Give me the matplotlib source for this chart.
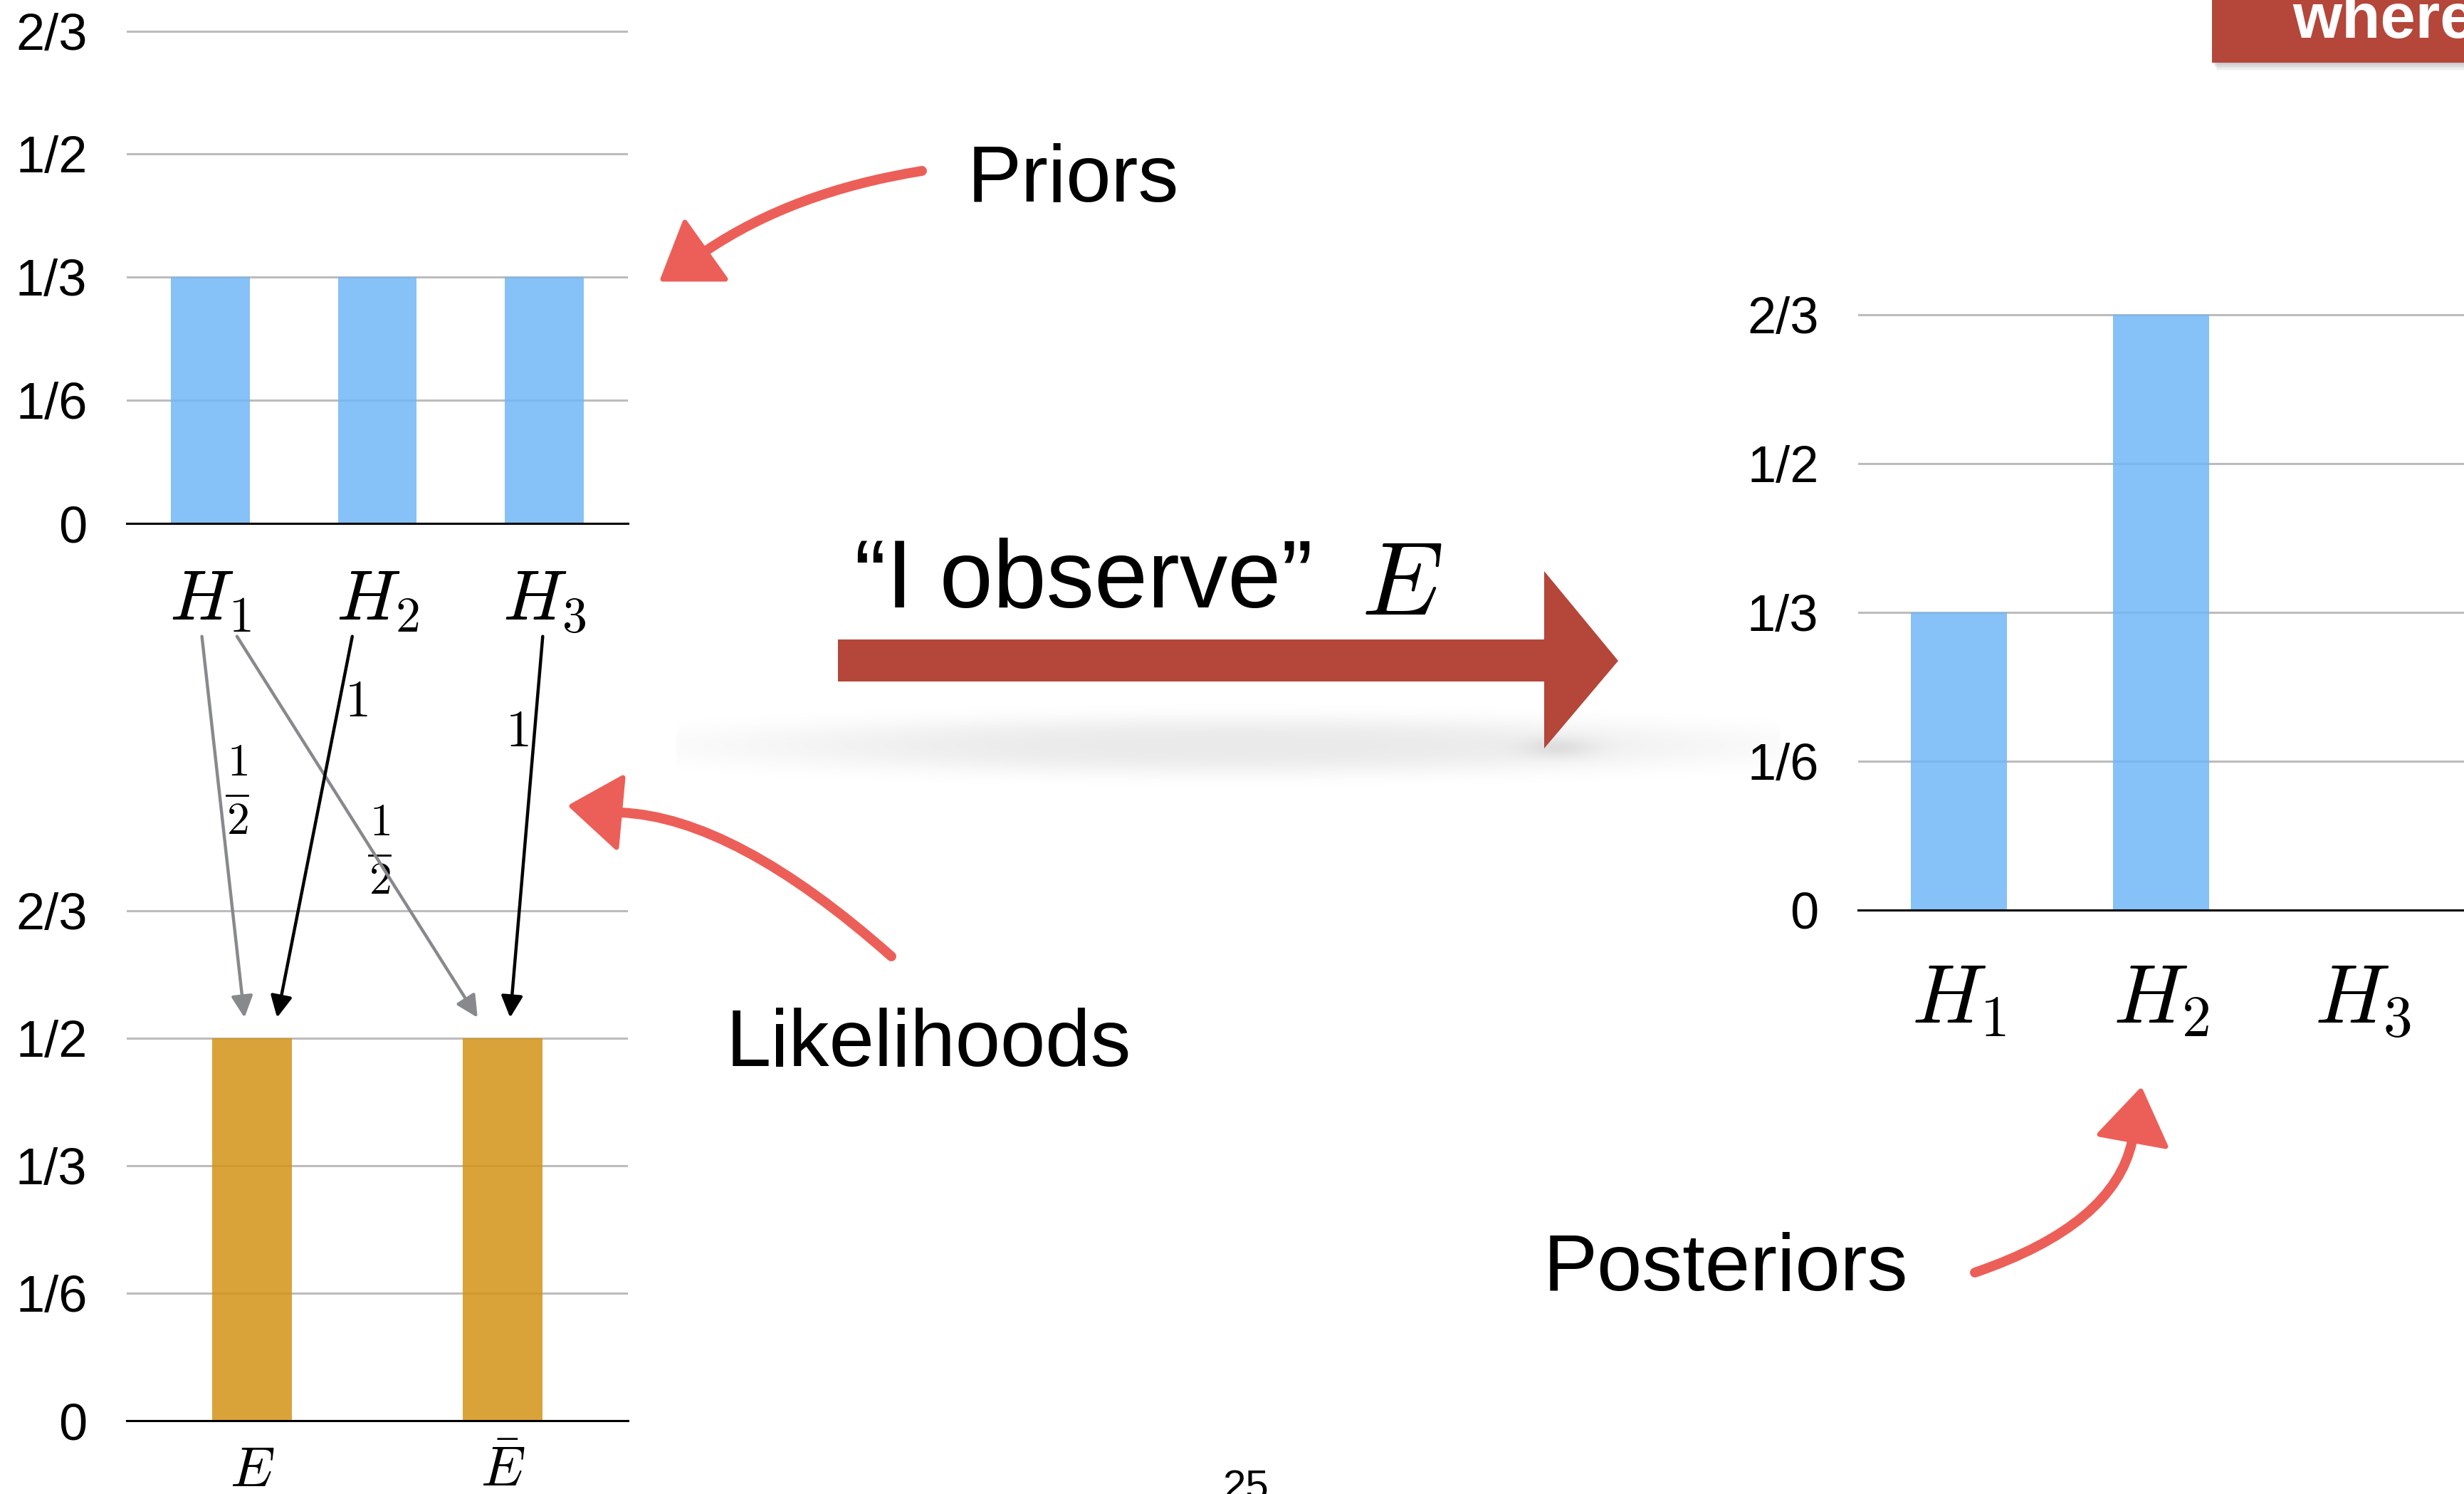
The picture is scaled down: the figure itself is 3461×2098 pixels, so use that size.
import numpy as np
import matplotlib.pyplot as plt
import matplotlib.transforms as transforms
from matplotlib.patches import Polygon, Rectangle, ConnectionPatch, PathPatch
from matplotlib.path import Path

plt.rcParams['font.family'] = ['Liberation Sans', 'DejaVu Sans']
plt.rcParams['mathtext.fontset'] = 'cm'

W, H = 3461, 2098
DPI = 100

# --- data ---------------------------------------------------------------
hypotheses = [r'$H_1$', r'$H_2$', r'$H_3$']
priors = [1/3, 1/3, 1/3]
outcomes = [r'$E$', r'$\bar{E}$']
outcome_probs = [1/2, 1/2]
posteriors = [1/3, 2/3, 0]
tick_vals = [0, 1/6, 1/3, 1/2, 2/3]
tick_text = ['0', '1/6', '1/3', '1/2', '2/3']

# likelihood links: hypothesis -> outcome, P(outcome | hypothesis)
link_hyp = [0, 0, 1, 2]
link_out = [0, 1, 0, 1]
link_num = [1, 1, 1, 1]
link_den = [2, 2, 1, 1]

BLUE = '#71b6f7'
GOLD = '#d49316'
BRICK = '#b4463a'
CORAL = '#ec5f58'

fig = plt.figure(figsize=(W / DPI, H / DPI), dpi=DPI)
fig.patch.set_facecolor('white')

YMAX = 0.68


def panel(x0, x1, y_zero, y_23, values, labels, color, bar_w, lab_size, lab_base):
    y_top = y_zero - (y_zero - y_23) * YMAX / (2 / 3)
    ax = fig.add_axes([x0 / W, 1 - y_zero / H, (x1 - x0) / W, (y_zero - y_top) / H])
    ax.set_facecolor('none')
    ax.set_axisbelow(True)
    x = np.arange(len(values))
    ax.bar(x, values, width=bar_w, color=color, alpha=0.85, zorder=2)
    ax.set_xlim(-0.5, len(values) - 0.5)
    ax.set_ylim(0, YMAX)
    ax.set_yticks(tick_vals, tick_text)
    ax.set_xticks([])
    ax.tick_params(axis='y', length=0, pad=40, labelsize=52)
    ax.grid(axis='y', color='#bcbcbc', lw=2.2)
    for s in ['top', 'right', 'left']:
        ax.spines[s].set_visible(False)
    ax.spines['bottom'].set_linewidth(2.2)
    ax.spines['bottom'].set_zorder(3)
    trans = transforms.blended_transform_factory(ax.transData, fig.transFigure)
    for i, lab in enumerate(labels):
        ax.text(i, 1 - lab_base / H, lab, transform=trans, ha='center',
                va='baseline', fontsize=lab_size)
    return ax


ax_pri = panel(178, 882, 735, 43.6, priors, hypotheses, BLUE, 0.473, 72, 871)
ax_lik = panel(178, 882, 1995, 1279, outcome_probs, outcomes, GOLD, 0.316, 57, 2087)
ax_post = panel(2610, 3461, 1278, 442, posteriors, hypotheses, BLUE, 0.477, 84, 1436)

# arrows from each hypothesis label down to the outcome bars
src_dx = [-0.05, 0.16, -0.15, -0.01]
dst_dx = [-0.03, -0.10, 0.10, 0.03]
for h, o, n, d, a, b in zip(link_hyp, link_out, link_num, link_den, src_dx, dst_dx):
    p = n / d
    col = '#87898d' if p < 1 else 'black'
    con = ConnectionPatch(xyA=(h + a, -0.153), coordsA='data', axesA=ax_pri,
                          xyB=(o + b, outcome_probs[o] + 0.027), coordsB='data', axesB=ax_lik,
                          arrowstyle='-|>', mutation_scale=46, color=col,
                          lw=3.2, zorder=5)
    con.set_annotation_clip(False)
    fig.add_artist(con)

# overlay in pixel coordinates for the slide decorations
ov = fig.add_axes([0, 0, 1, 1], zorder=3)
ov.patch.set_alpha(0)

# soft drop shadow under the big arrow
xs = np.linspace(950, 2500, 600)
ys = np.linspace(960, 1140, 120)
X, Y = np.meshgrid(xs, ys)
r = np.sqrt(((X - 1735) / 690) ** 2 + ((Y - 1047) / 40) ** 2)
alpha = 0.085 * np.exp(-r ** 3) + 0.07 * np.exp(-((X - 2190) / 50) ** 2 - ((Y - 1050) / 14) ** 2)
shadow = np.zeros(X.shape + (4,))
shadow[..., 3] = np.clip(alpha, 0, 1)
ov.imshow(shadow, extent=(950, 2500, 1140, 960), interpolation='bilinear', zorder=0)

# "where" box at the top right
for k in range(8):
    ov.add_patch(Rectangle((3107 + k, -20), 400, 108 + k * 1.6, fc='black',
                           alpha=0.03, lw=0, zorder=1))
ov.add_patch(Rectangle((3107, -20), 400, 108, fc=BRICK, lw=0, zorder=2))
ov.text(3220, 53, 'where', color='white', fontsize=64, fontweight='bold',
        va='baseline', ha='left', zorder=3)

# big "I observe E" arrow
ov.add_patch(Polygon([(1177, 898), (2169, 898), (2169, 802), (2273, 928),
                      (2169, 1051), (2169, 957), (1177, 957)],
                     closed=True, fc=BRICK, ec='none', zorder=2))
ov.text(1200, 852, '\u201cI observe\u201d', fontsize=97, fontweight='light',
        va='baseline', ha='left')
ov.text(1912, 863, r'$E$', fontsize=105, va='baseline', ha='left')


def hand_arrow(p0, c, p1, apex, b1, b2):
    path = Path([p0, c, p1], [Path.MOVETO, Path.CURVE3, Path.CURVE3])
    ov.add_patch(PathPatch(path, fill=False, ec=CORAL, lw=10, capstyle='round', zorder=4))
    ov.add_patch(Polygon([apex, b1, b2], closed=True, fc=CORAL, ec=CORAL, lw=5,
                         joinstyle='round', zorder=4))


hand_arrow((1295, 240), (1115, 269), (992, 352), (931, 392), (962, 312), (1019, 392))
hand_arrow((1252, 1343), (1032, 1148), (872, 1141), (803, 1132), (875, 1092), (866, 1190))
hand_arrow((2774, 1787), (2970, 1720), (2995, 1602), (3007, 1532), (2949, 1593), (3042, 1610))

ov.text(1359, 283, 'Priors', fontsize=82, va='baseline', ha='left')
ov.text(1020, 1497, 'Likelihoods', fontsize=82, va='baseline', ha='left')
ov.text(2168, 1812, 'Posteriors', fontsize=82, va='baseline', ha='left')


# likelihood values next to the links
def prob_label(n, d, cx, cy):
    if d == 1:
        ov.text(cx, cy, r'$%d$' % n, fontsize=52, ha='center', va='center')
        return
    ov.text(cx, cy - 45, r'$%d$' % n, fontsize=46, ha='center', va='center')
    ov.plot([cx - 15, cx + 15], [cy, cy], color='black', lw=2)
    ov.text(cx, cy + 37, r'$%d$' % d, fontsize=46, ha='center', va='center')


label_xy = [(333, 1117), (533, 1201), (500, 987), (726, 1029)]
for n, d, (cx, cy) in zip(link_num, link_den, label_xy):
    prob_label(n, d, cx, cy)

# slide number
ov.text(1750, 2105, '25', fontsize=42, fontweight='light', ha='center', va='baseline')

ov.set_xlim(0, W)
ov.set_ylim(H, 0)
ov.set_aspect('auto')
ov.axis('off')

fig.savefig('out.png', dpi=DPI, facecolor='white')
